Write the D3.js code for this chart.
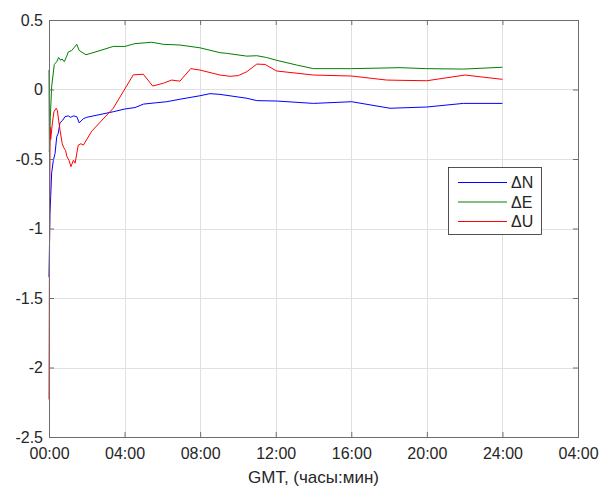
<!DOCTYPE html>
<html>
<head>
<meta charset="utf-8">
<script src="https://cdn.jsdelivr.net/npm/d3@7"></script>
<style>
  html, body { margin: 0; padding: 0; background: #fff; }
  svg { display: block; }
  text { font-family: "Liberation Sans", Arial, Helvetica, sans-serif; fill: #262626; }
</style>
</head>
<body>
<svg id="chart" width="600" height="489"></svg>
<script>
// Time axis: hours since 00:00 GMT
const xTicks = [0, 4, 8, 12, 16, 20, 24, 28];
const xTickLabels = ["00:00", "04:00", "08:00", "12:00", "16:00", "20:00", "24:00", "04:00"];
const yTicks = [0.5, 0, -0.5, -1, -1.5, -2, -2.5];
const yTickLabels = ["0.5", "0", "-0.5", "-1", "-1.5", "-2", "-2.5"];

const seriesNames = ["\u0394N", "\u0394E", "\u0394U"];
const seriesColors = ["#0000ff", "#008000", "#ff0000"];

// [hours, metres]
const deltaN = [
  [0, -1.35], [0.05, -0.89], [0.09, -0.77], [0.14, -0.60], [0.23, -0.51], [0.32, -0.46],
  [0.41, -0.34], [0.49, -0.315], [0.58, -0.24], [0.73, -0.22], [0.85, -0.195], [1.02, -0.19],
  [1.15, -0.20], [1.29, -0.19], [1.47, -0.195], [1.60, -0.24], [1.82, -0.21], [2.0, -0.20],
  [2.70, -0.18], [3.40, -0.16], [4.02, -0.14], [4.55, -0.13], [5.0, -0.105], [5.70, -0.095],
  [6.23, -0.088], [6.93, -0.07], [7.99, -0.045], [8.52, -0.03], [9.05, -0.035], [10.47, -0.063],
  [11.0, -0.08], [12.05, -0.083], [14.0, -0.10], [16.02, -0.088], [18.05, -0.135], [20.0, -0.126],
  [21.93, -0.10], [24.0, -0.10]
];

const deltaE = [
  [0, 0.14], [0.02, -0.45], [0.07, -0.20], [0.14, 0.02], [0.28, 0.18], [0.41, 0.20], [0.51, 0.23],
  [0.62, 0.21], [0.69, 0.22], [0.81, 0.20], [0.94, 0.24], [1.02, 0.27], [1.20, 0.28], [1.32, 0.30],
  [1.47, 0.325], [1.60, 0.28], [1.96, 0.25], [2.70, 0.28], [3.40, 0.31], [4.02, 0.31], [4.55, 0.33],
  [5.44, 0.34], [6.05, 0.325], [6.93, 0.32], [7.99, 0.30], [9.05, 0.265], [9.41, 0.26], [10.47, 0.24],
  [11.0, 0.243], [11.52, 0.23], [12.05, 0.21], [13.11, 0.176], [14.0, 0.15], [16.02, 0.15],
  [18.58, 0.157], [20.0, 0.15], [21.93, 0.147], [24.0, 0.16]
];

const deltaU = [
  [0, -2.23], [0.02, -1.40], [0.05, -0.50], [0.06, -0.27], [0.09, -0.36], [0.18, -0.24], [0.26, -0.16],
  [0.38, -0.135], [0.44, -0.15], [0.58, -0.29], [0.70, -0.39], [0.79, -0.42], [0.88, -0.44],
  [0.94, -0.48], [1.06, -0.51], [1.16, -0.555], [1.29, -0.51], [1.38, -0.53], [1.55, -0.40],
  [1.69, -0.39], [1.82, -0.40], [2.26, -0.30], [3.40, -0.135], [4.46, 0.105], [4.99, 0.11],
  [5.49, 0.025], [6.05, 0.045], [6.49, 0.068], [6.93, 0.06], [7.50, 0.15], [7.99, 0.14],
  [9.05, 0.104], [9.58, 0.095], [10.02, 0.10], [10.47, 0.128], [11.0, 0.183], [11.44, 0.18],
  [12.05, 0.133], [14.0, 0.104], [16.02, 0.097], [17.87, 0.068], [18.58, 0.066], [20.0, 0.063],
  [22.02, 0.104], [24.0, 0.073]
];

const series = [deltaN, deltaE, deltaU];

const svg = d3.select("#chart");
const plotLeft = 49, plotRight = 578, plotTop = 20, plotBottom = 437;

const x = d3.scaleLinear().domain([0, 28]).range([plotLeft, plotRight]);
const y = d3.scaleLinear().domain([-2.5, 0.5]).range([plotBottom, plotTop]);

// grid
const grid = svg.append("g").attr("stroke", "#e0e0e0").attr("stroke-width", 1);
grid.selectAll(".gx").data(xTicks.slice(1, -1)).join("line")
  .attr("x1", d => Math.round(x(d)) + 0.5).attr("x2", d => Math.round(x(d)) + 0.5)
  .attr("y1", plotTop).attr("y2", plotBottom);
grid.selectAll(".gy").data(yTicks.slice(1, -1)).join("line")
  .attr("y1", d => Math.round(y(d)) + 0.5).attr("y2", d => Math.round(y(d)) + 0.5)
  .attr("x1", plotLeft).attr("x2", plotRight);

// data lines
const line = d3.line().x(d => x(d[0])).y(d => y(d[1]));
svg.append("g").selectAll("path").data(series).join("path")
  .attr("d", line)
  .attr("fill", "none")
  .attr("stroke", (d, i) => seriesColors[i])
  .attr("stroke-width", 1)
  .attr("stroke-linejoin", "round");

// axes with inward ticks, boxed
const axisColor = "#6e6e6e";
const tickLen = 5;
function styleAxis(g) {
  g.select(".domain").remove();
  g.selectAll(".tick line").attr("stroke", axisColor);
  g.selectAll(".tick text").attr("fill", "#262626").style("font-size", "16px")
    .style("font-family", '"Liberation Sans", Arial, sans-serif');
}

svg.append("g").attr("transform", `translate(0,${plotBottom})`)
  .call(d3.axisBottom(x).tickValues(xTicks).tickSizeInner(-tickLen).tickSizeOuter(0)
    .tickPadding(11).tickFormat((d, i) => xTickLabels[i]))
  .call(styleAxis);

svg.append("g").attr("transform", `translate(0,${plotTop})`)
  .call(d3.axisTop(x).tickValues(xTicks).tickSizeInner(-tickLen).tickSizeOuter(0).tickFormat(""))
  .call(styleAxis);

svg.append("g").attr("transform", `translate(${plotLeft},0)`)
  .call(d3.axisLeft(y).tickValues(yTicks).tickSizeInner(-tickLen).tickSizeOuter(0)
    .tickPadding(6).tickFormat((d, i) => yTickLabels[i]))
  .call(styleAxis);

svg.append("g").attr("transform", `translate(${plotRight},0)`)
  .call(d3.axisRight(y).tickValues(yTicks).tickSizeInner(-tickLen).tickSizeOuter(0).tickFormat(""))
  .call(styleAxis);

svg.append("rect")
  .attr("x", plotLeft + 0.5).attr("y", plotTop + 0.5)
  .attr("width", plotRight - plotLeft).attr("height", plotBottom - plotTop)
  .attr("fill", "none").attr("stroke", axisColor).attr("stroke-width", 1);

// x axis title
svg.append("text")
  .attr("x", (plotLeft + plotRight) / 2).attr("y", 483)
  .attr("text-anchor", "middle")
  .style("font-size", "17px")
  .text("GMT, (часы:мин)");

// legend
const lg = svg.append("g").attr("transform", "translate(448,167)");
lg.append("rect").attr("x", 0.5).attr("y", 0.5).attr("width", 93).attr("height", 67)
  .attr("fill", "#fff").attr("stroke", "#262626").attr("stroke-width", 0.8);
const items = lg.selectAll(".item").data(seriesNames).join("g")
  .attr("transform", (d, i) => `translate(0,${15.5 + i * 19.5})`);
items.append("line").attr("x1", 10).attr("x2", 59).attr("y1", 0).attr("y2", 0)
  .attr("stroke", (d, i) => seriesColors[i]).attr("stroke-width", 1);
items.append("text").attr("x", 63).attr("y", 0).attr("dy", "0.36em")
  .style("font-size", "16px").text(d => d);
</script>
</body>
</html>
